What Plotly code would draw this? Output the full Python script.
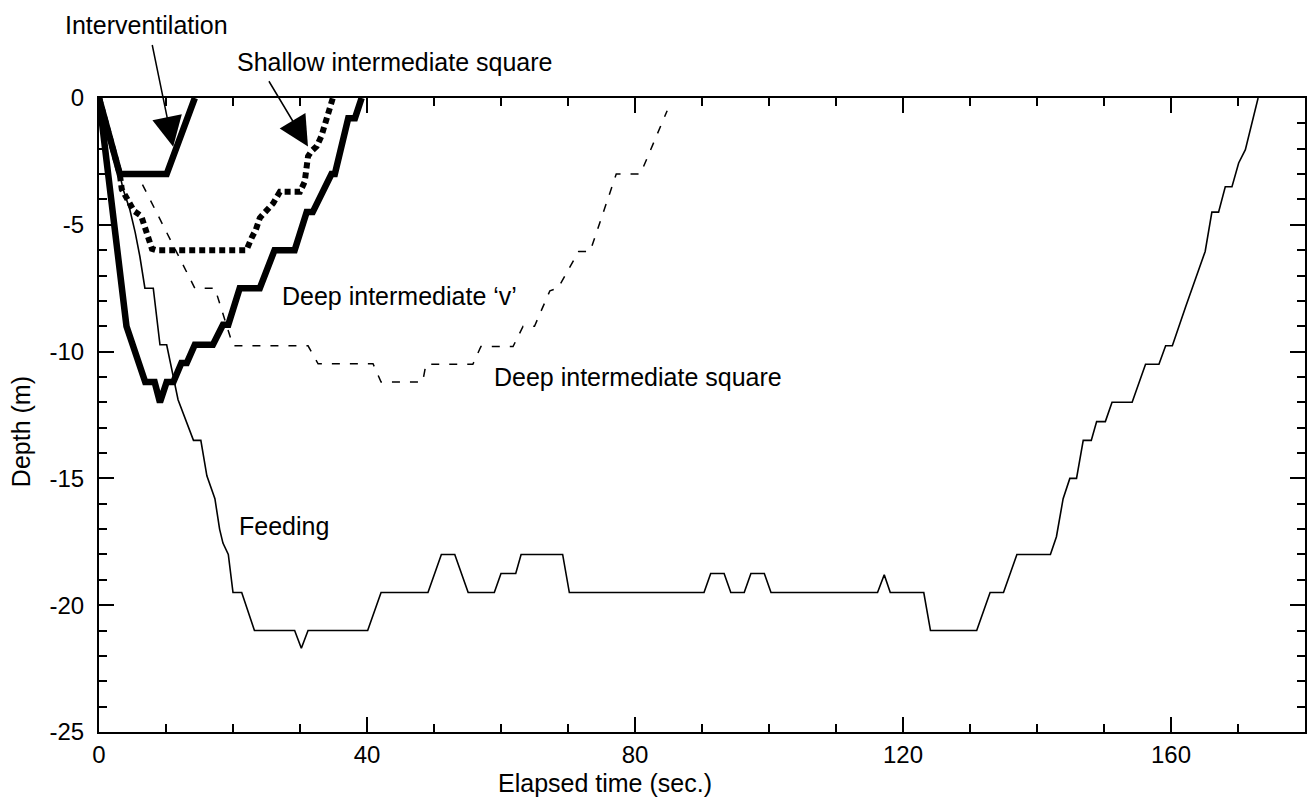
import plotly.graph_objects as go

# ---- data (elapsed time in s, depth in m) ----
interv_t = [0, 3.1, 10.1, 14.3]
interv_d = [0, -3.0, -3.0, 0]

shallow_t = [0, 3.1, 3.4, 4.6, 5.2, 6.3, 6.85, 7.4, 7.9, 8.5, 22.0, 22.8, 23.4, 24.0,
             26.0, 27.0, 30.0, 30.7, 31.2, 31.7, 32.5, 33.2, 33.7, 34.9]
shallow_d = [0, -3.0, -3.6, -4.1, -4.45, -4.65, -5.1, -5.55, -5.95, -6.0, -6.0, -5.5, -5.2, -4.73,
             -4.15, -3.7, -3.7, -3.3, -2.3, -2.1, -1.9, -1.5, -1.05, 0]

deepv_t = [0, 2.0, 3.6, 4.1, 6.9, 8.3, 9.1, 10.1, 11.1, 12.3, 13.1, 14.3, 17.0, 18.5, 19.3,
           21.0, 24.0, 26.2, 29.2, 31.0, 31.9, 34.7, 35.2, 36.4, 37.2, 38.2, 39.2]
deepv_d = [0, -4.2, -7.8, -9.0, -11.2, -11.2, -12.0, -11.2, -11.2, -10.45, -10.45, -9.73, -9.73,
           -8.94, -8.94, -7.5, -7.5, -6.0, -6.0, -4.5, -4.5, -3.0, -3.0, -1.5, -0.8, -0.8, 0]

deepsq_t = [0, 3.1, 5.7, 14.3, 17.3, 20.0, 31.2, 32.7, 40.9, 42.1, 48.3, 48.8, 55.8, 57.0,
            61.8, 63.3, 65.0, 67.3, 68.5, 71.6, 73.3, 77.2, 80.8, 84.8]
deepsq_d = [0, -3.0, -3.0, -7.5, -7.5, -9.77, -9.77, -10.48, -10.48, -11.2, -11.2, -10.5, -10.5, -9.8,
            -9.8, -9.0, -9.0, -7.6, -7.5, -6.05, -6.05, -3.0, -3.0, -0.5]

feed_t = [0, 3.1, 3.6, 4.6, 5.4, 6.1, 6.85, 8.1, 9.1, 10.1, 11.8, 14.1, 15.2, 16.1, 17.3, 18.0,
          18.5, 19.3, 20.0, 21.3, 23.2, 29.2, 30.2, 31.2, 40.1, 42.1, 49.1, 51.1, 53.1, 55.1,
          59.0, 60.0, 62.2, 63.0, 69.2, 70.2, 90.3, 91.3, 93.3, 94.3, 96.3, 97.3, 99.3, 100.3,
          116.2, 117.2, 118.1, 123.1, 124.1, 131.0, 133.0, 135.0, 137.0, 142.0, 142.9, 143.9,
          144.9, 145.9, 146.9, 148.1, 148.9, 150.2, 151.2, 154.2, 156.2, 158.2, 159.2, 160.2,
          162.2, 165.1, 166.1, 167.1, 168.1, 169.1, 170.1, 171.1, 173.0]
feed_d = [0, -3.0, -3.6, -4.4, -5.3, -6.25, -7.5, -7.5, -9.73, -9.73, -11.9, -13.5, -13.5, -14.9,
          -15.8, -17.0, -17.55, -18.0, -19.5, -19.5, -21.0, -21.0, -21.7, -21.0, -21.0, -19.5,
          -19.5, -18.0, -18.0, -19.5, -19.5, -18.75, -18.75, -18.0, -18.0, -19.5, -19.5, -18.75,
          -18.75, -19.5, -19.5, -18.75, -18.75, -19.5, -19.5, -18.8, -19.5, -19.5, -21.0, -21.0,
          -19.5, -19.5, -18.0, -18.0, -17.3, -15.8, -15.0, -15.0, -13.5, -13.5, -12.76, -12.76,
          -12.0, -12.0, -10.5, -10.5, -9.77, -9.77, -8.22, -6.05, -4.5, -4.5, -3.5, -3.5, -2.56,
          -2.04, 0]

x_ticks = [0, 40, 80, 120, 160]
y_ticks = [0, -5, -10, -15, -20, -25]

FONT = "Liberation Sans, Arial, Helvetica, sans-serif"

# plot-area geometry in pixels (used only to place free text in paper coordinates)
L, R, T, B = 99, 1307, 98, 732
def px_x(px):
    return (px - L) / (R - L)
def px_y(py):
    return (B - py) / (B - T)

fig = go.Figure()
fig.add_trace(go.Scatter(x=feed_t, y=feed_d, mode="lines",
                         line=dict(color="black", width=1.6), name="Feeding"))
fig.add_trace(go.Scatter(x=deepsq_t, y=deepsq_d, mode="lines",
                         line=dict(color="black", width=1.5, dash="8px,10px"),
                         name="Deep intermediate square"))
fig.add_trace(go.Scatter(x=shallow_t, y=shallow_d, mode="lines",
                         line=dict(color="black", width=6, dash="6px,4px"),
                         name="Shallow intermediate square"))
fig.add_trace(go.Scatter(x=deepv_t, y=deepv_d, mode="lines",
                         line=dict(color="black", width=6.5), name="Deep intermediate 'v'"))
fig.add_trace(go.Scatter(x=interv_t, y=interv_d, mode="lines",
                         line=dict(color="black", width=6.5), name="Interventilation"))

axis_common = dict(showline=True, linecolor="black", linewidth=2, mirror="allticks",
                   ticks="inside", ticklen=15, tickwidth=2, tickcolor="black",
                   showgrid=False, zeroline=False,
                   tickfont=dict(family=FONT, size=24, color="black"))

fig.update_xaxes(range=[0, 180], tickvals=x_ticks, ticktext=[str(v) for v in x_ticks],
                 minor=dict(dtick=10, tick0=0, ticks="inside", ticklen=8, tickwidth=2,
                            tickcolor="black", showgrid=False),
                 ticklabelstandoff=0, **axis_common)
fig.update_yaxes(range=[-25, 0], tickvals=y_ticks, ticktext=[str(v) for v in y_ticks],
                 minor=dict(dtick=1, tick0=0, ticks="inside", ticklen=8, tickwidth=2,
                            tickcolor="black", showgrid=False),
                 ticklabelstandoff=8, **axis_common)

ann_font = dict(family=FONT, size=25, color="black")

# labels placed in paper coordinates (some sit above the plot area)
labels = [
    ("Interventilation", 63, 25),
    ("Shallow intermediate square", 235, 62),
    ("Deep intermediate \u2018v\u2019", 280, 296),
    ("Deep intermediate square", 493, 377),
    ("Feeding", 237, 526),
]
for txt, lx, ly in labels:
    fig.add_annotation(text=txt, x=px_x(lx), y=px_y(ly), xref="paper", yref="paper",
                       showarrow=False, xanchor="left", yanchor="middle", font=ann_font)

# arrows (tail -> head) in data coordinates
arrows = [((7.9, 2.15), (11.07, -1.92)), ((25.23, 0.72), (31.19, -1.91))]
for (tx, ty), (hx, hy) in arrows:
    fig.add_annotation(text="", x=hx, y=hy, ax=tx, ay=ty, xref="x", yref="y",
                       axref="x", ayref="y", showarrow=True, arrowhead=2,
                       arrowsize=4, arrowwidth=1.5, arrowcolor="black", standoff=0)

fig.add_annotation(text="Elapsed time (sec.)", xref="paper", yref="paper",
                   x=px_x(498), y=px_y(798), xanchor="left", borderpad=0,
                   yanchor="bottom", showarrow=False, font=ann_font)
fig.add_annotation(text="Depth (m)", xref="paper", yref="paper",
                   x=px_x(21), y=px_y(432), xanchor="center",
                   yanchor="middle", textangle=-90, showarrow=False, font=ann_font)

fig.update_layout(width=1310, height=798, margin=dict(l=L, r=1310 - R, t=T, b=798 - B),
                  plot_bgcolor="white", paper_bgcolor="white", showlegend=False,
                  font=dict(family=FONT, color="black"))

fig.write_html("out.html", config={"displayModeBar": False},
               post_script="document.body.style.margin='0';document.body.style.overflow='hidden';")
